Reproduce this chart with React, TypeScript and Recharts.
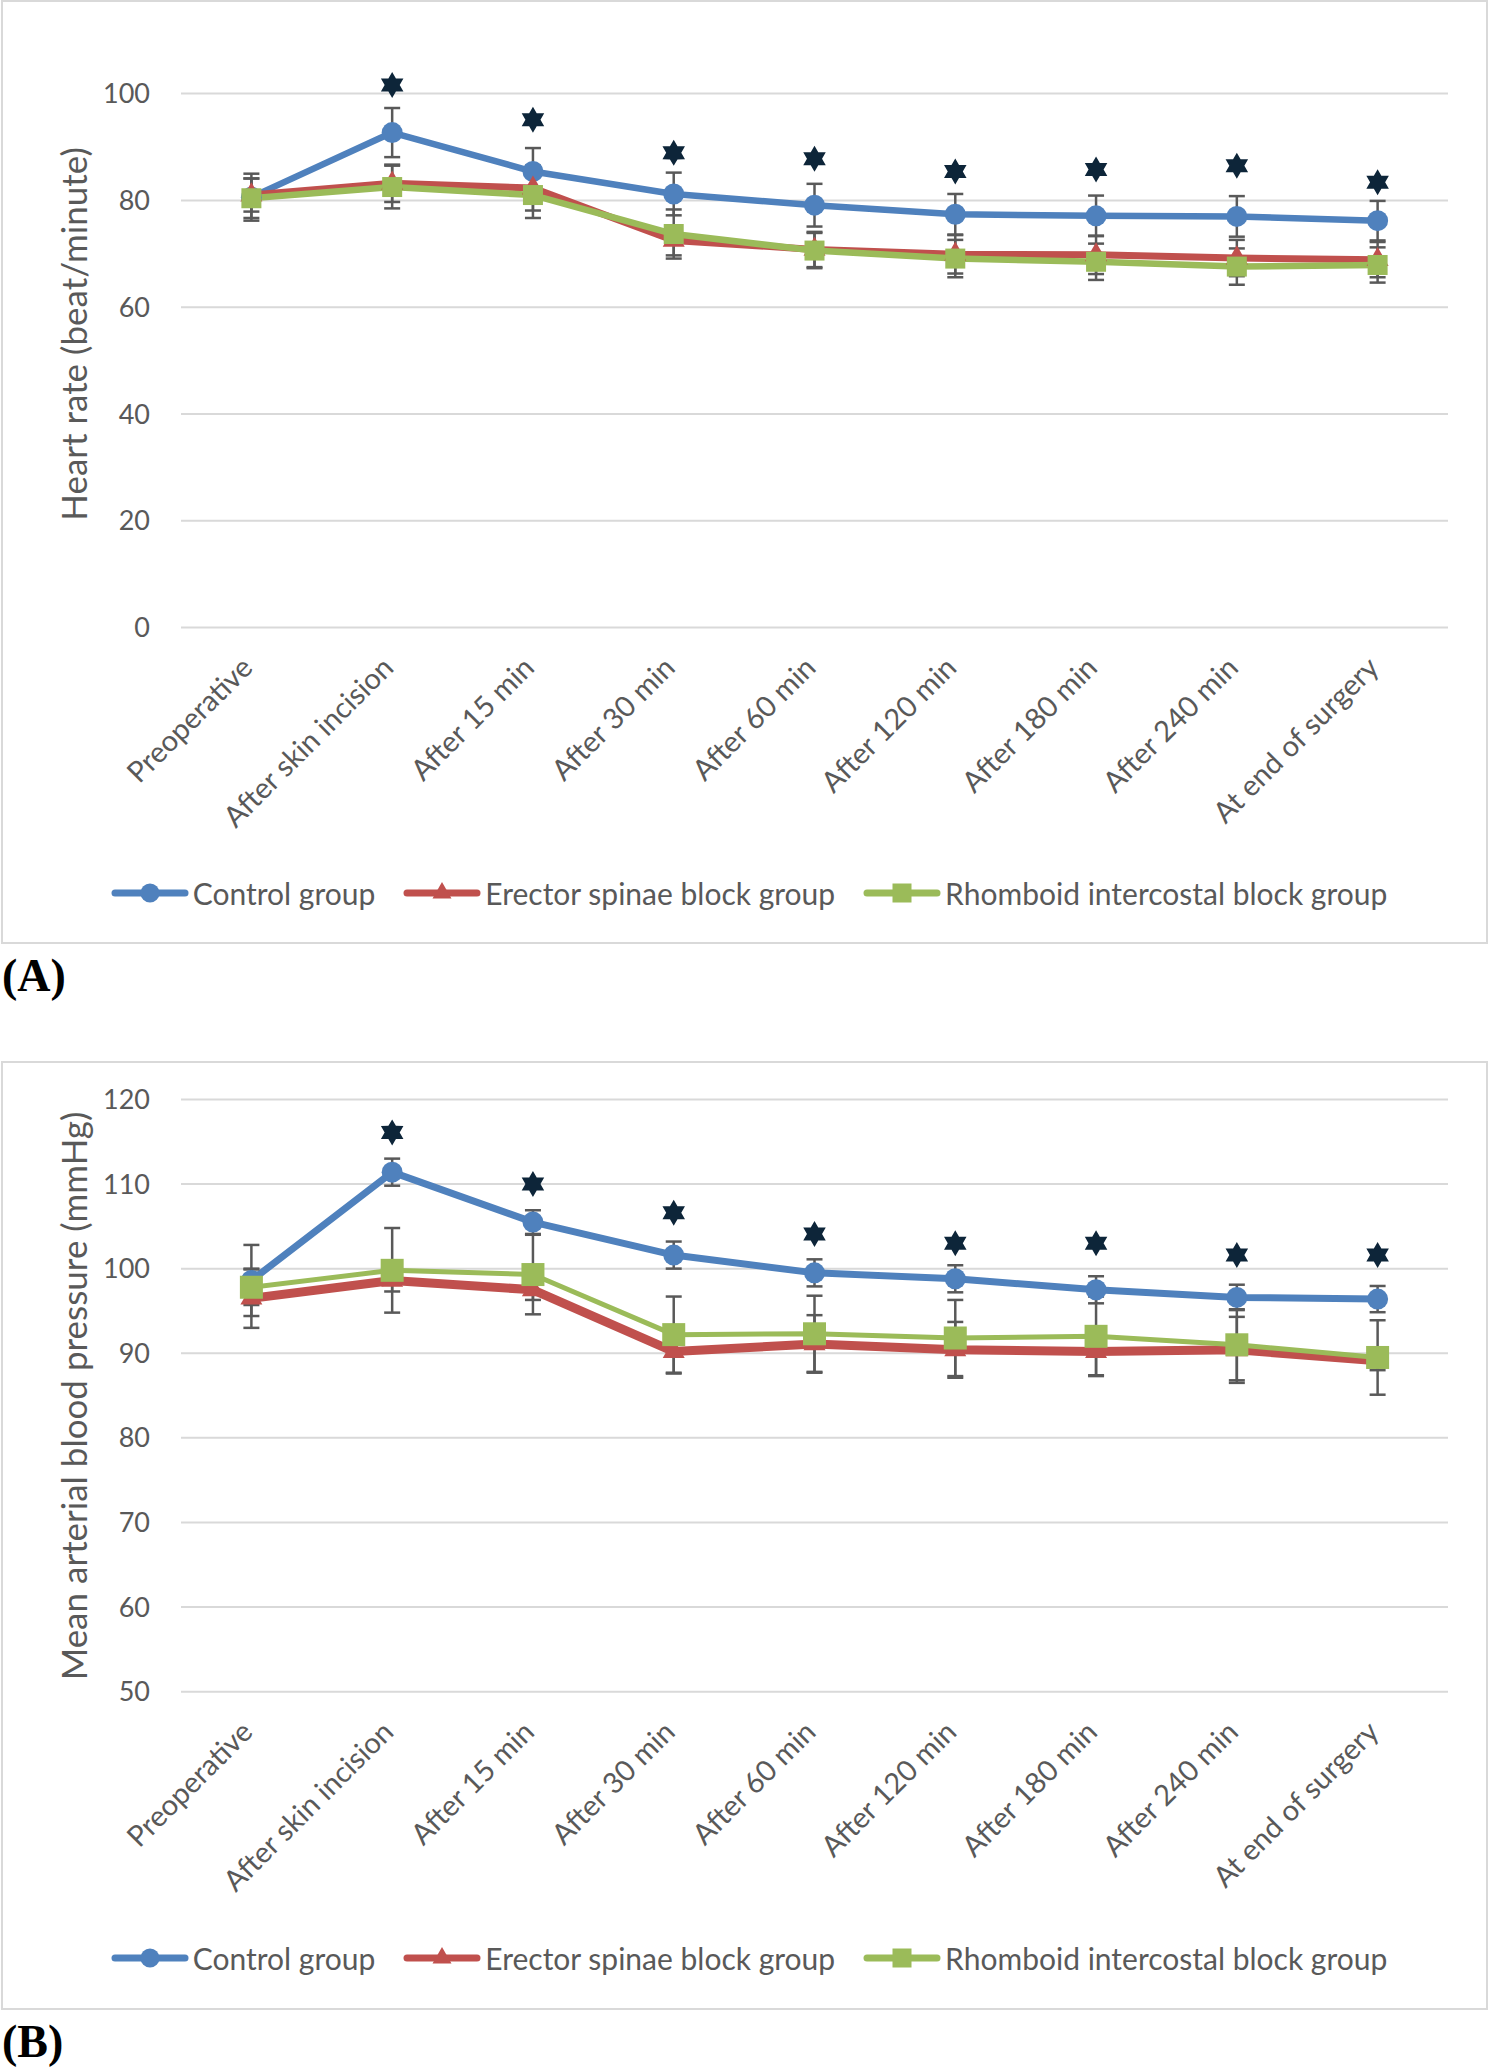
import { LineChart, Line, XAxis, YAxis, CartesianGrid, ErrorBar, Legend, ReferenceDot } from "recharts";

const FONT = "Lato, 'Noto Sans', sans-serif";
const TEXT = "#595959";
const GRID = "#d9d9d9";

const timePoints = [
  "Preoperative",
  "After skin incision",
  "After 15 min",
  "After 30 min",
  "After 60 min",
  "After 120 min",
  "After 180 min",
  "After 240 min",
  "At end of surgery",
];

// (A) heart rate, beat/minute (mean and SD)
const hrControl = [80.6, 92.7, 85.4, 81.2, 79.1, 77.4, 77.1, 77.0, 76.2];
const hrControlSd = [4.4, 4.6, 4.4, 4.0, 4.0, 3.8, 3.8, 3.8, 3.7];
const hrErector = [81.0, 83.2, 82.3, 72.5, 70.8, 69.9, 69.8, 69.2, 68.9];
const hrErectorSd = [3.1, 3.5, 4.2, 2.8, 3.3, 3.6, 3.6, 3.4, 3.3];
const hrRhomboid = [80.4, 82.5, 81.0, 73.7, 70.6, 69.1, 68.5, 67.6, 67.9];
const hrRhomboidSd = [3.7, 4.0, 4.3, 4.6, 3.3, 3.5, 3.4, 3.4, 3.3];
const hrStars = [null, 101.6, 95.1, 88.9, 87.8, 85.4, 85.8, 86.5, 83.4];
const hrTicks = [0, 20, 40, 60, 80, 100];

// (B) mean arterial blood pressure, mmHg (mean and SD)
const mapControl = [98.6, 111.4, 105.5, 101.6, 99.5, 98.8, 97.5, 96.6, 96.4];
const mapControlSd = [4.2, 1.6, 1.4, 1.6, 1.6, 1.6, 1.6, 1.5, 1.55];
const mapErector = [96.5, 98.6, 97.5, 90.2, 91.1, 90.4, 90.2, 90.4, 89.1];
const mapErectorSd = [3.5, 1.3, 1.2, 2.6, 3.4, 3.3, 2.8, 3.9, 1.1];
const mapRhomboid = [97.8, 99.8, 99.3, 92.2, 92.3, 91.8, 92.0, 91.0, 89.5];
const mapRhomboidSd = [2.1, 5.0, 4.7, 4.5, 4.5, 4.5, 4.7, 4.2, 4.4];
const mapStars = [null, 116.1, 110.0, 106.6, 104.1, 103.0, 103.0, 101.6, 101.6];
const mapTicks = [50, 60, 70, 80, 90, 100, 110, 120];

type Marker = "circle" | "triangle" | "square";

interface SeriesDef {
  key: string;
  name: string;
  color: string;
  marker: Marker;
  values: number[];
  sd: number[];
  strokeWidth: number;
  markerSize: number;
}

function markerShape(marker: Marker, cx: number, cy: number, size: number, color: string, key?: string) {
  if (marker === "circle") return <circle key={key} cx={cx} cy={cy} r={size / 2} fill={color} />;
  if (marker === "square")
    return <rect key={key} x={cx - size / 2} y={cy - size / 2} width={size} height={size} fill={color} />;
  const h = size * 0.866;
  const d = `M${cx},${cy - (2 * h) / 3} L${cx + size / 2},${cy + h / 3} L${cx - size / 2},${cy + h / 3} Z`;
  return <path key={key} d={d} fill={color} />;
}

function starPath(cx: number, cy: number, r: number) {
  const pts: string[] = [];
  for (let i = 0; i < 12; i++) {
    const a = -Math.PI / 2 + (i * Math.PI) / 6;
    const rr = i % 2 === 0 ? r : r * 0.58;
    pts.push(`${cx + rr * Math.cos(a)},${cy + rr * Math.sin(a)}`);
  }
  return `M${pts.join("L")}Z`;
}

const StarShape = (props: any) => <path d={starPath(props.cx, props.cy, 13)} fill="#0d2539" />;

function CategoryTick(props: any) {
  const { x, y, payload } = props;
  return (
    <g transform={`translate(${x + 3},${y + 34})`}>
      <text x={0} y={0} textAnchor="end" transform="rotate(-45)" fill={TEXT} fontSize={29} fontFamily={FONT}>
        {payload.value}
      </text>
    </g>
  );
}

function LegendRow({ series }: { series: SeriesDef[] }) {
  return (
    <div
      style={{
        height: 40,
        display: "flex",
        alignItems: "center",
        justifyContent: "center",
        gap: 28,
        paddingLeft: 9,
        fontFamily: FONT,
        fontSize: 30,
        color: TEXT,
      }}
    >
      {series.map((s) => (
        <div key={s.key} style={{ display: "flex", alignItems: "center" }}>
          <svg width={78} height={26}>
            <line x1={4} x2={74} y1={13} y2={13} stroke={s.color} strokeWidth={7} strokeLinecap="round" />
            {markerShape(s.marker, 39, 13, s.marker === "circle" ? 19 : 19, s.color)}
          </svg>
          <span style={{ marginLeft: 4, lineHeight: "40px" }}>{s.name}</span>
        </div>
      ))}
    </div>
  );
}

interface PanelProps {
  series: SeriesDef[];
  stars: (number | null)[];
  ticks: number[];
  title: string;
  height: number;
  marginTop: number;
  xAxisHeight: number;
}

function Panel({ series, stars, ticks, title, height, marginTop, xAxisHeight }: PanelProps) {
  const rows = timePoints.map((name, i) => {
    const row: Record<string, string | number> = { name };
    series.forEach((s) => {
      row[s.key] = s.values[i];
      row[`${s.key}Sd`] = s.sd[i];
    });
    return row;
  });
  const plotWidth = 1489 - 181 - 41;
  const pad = plotWidth / 18;

  return (
    <LineChart width={1489} height={height} data={rows} margin={{ top: marginTop, right: 41, bottom: 31, left: 0 }}>
      <CartesianGrid vertical={false} stroke={GRID} strokeWidth={2} />
      <XAxis
        dataKey="name"
        interval={0}
        axisLine={false}
        tickLine={false}
        height={xAxisHeight}
        padding={{ left: pad, right: pad }}
        tick={<CategoryTick />}
      />
      <YAxis
        type="number"
        domain={[ticks[0], ticks[ticks.length - 1]]}
        ticks={ticks}
        width={181}
        axisLine={false}
        tickLine={false}
        tickMargin={25}
        tick={{ fontSize: 27, fill: TEXT, fontFamily: FONT }}
        label={() => (
          <text
            x={73}
            y={334}
            transform="rotate(-90 73 334)"
            textAnchor="middle"
            dominantBaseline="central"
            fill={TEXT}
            fontSize={35}
            fontFamily={FONT}
          >
            {title}
          </text>
        )}
      />
      <Legend
        verticalAlign="bottom"
        align="center"
        wrapperStyle={{ left: 0, width: 1489 }}
        content={() => <LegendRow series={series} />}
      />
      {series.map((s) => (
        <Line
          key={s.key}
          dataKey={s.key}
          name={s.name}
          type="linear"
          stroke={s.color}
          strokeWidth={s.strokeWidth}
          strokeLinejoin="round"
          isAnimationActive={false}
          dot={(p: any) =>
            p.cx == null ? <g key={`${s.key}-${p.index}`} /> : markerShape(s.marker, p.cx, p.cy, s.markerSize, s.color, `${s.key}-${p.index}`)
          }
          activeDot={false}
        >
          <ErrorBar dataKey={`${s.key}Sd`} direction="y" width={8} stroke={TEXT} strokeWidth={2.5} isAnimationActive={false} />
        </Line>
      ))}
      {stars.map((v, i) =>
        v == null ? null : (
          <ReferenceDot key={`star-${i}`} x={timePoints[i]} y={v} r={13} ifOverflow="visible" shape={StarShape} />
        ),
      )}
    </LineChart>
  );
}

const BLUE = "#4f81bd";
const RED = "#c0504d";
const GREEN = "#9bbb59";

const heartRateSeries: SeriesDef[] = [
  { key: "control", name: "Control group", color: BLUE, marker: "circle", values: hrControl, sd: hrControlSd, strokeWidth: 6.5, markerSize: 21 },
  { key: "erector", name: "Erector spinae block group", color: RED, marker: "triangle", values: hrErector, sd: hrErectorSd, strokeWidth: 7, markerSize: 22 },
  { key: "rhomboid", name: "Rhomboid intercostal block group", color: GREEN, marker: "square", values: hrRhomboid, sd: hrRhomboidSd, strokeWidth: 6.5, markerSize: 20 },
];

const pressureSeries: SeriesDef[] = [
  { key: "control", name: "Control group", color: BLUE, marker: "circle", values: mapControl, sd: mapControlSd, strokeWidth: 7, markerSize: 21 },
  { key: "erector", name: "Erector spinae block group", color: RED, marker: "triangle", values: mapErector, sd: mapErectorSd, strokeWidth: 9, markerSize: 22 },
  { key: "rhomboid", name: "Rhomboid intercostal block group", color: GREEN, marker: "square", values: mapRhomboid, sd: mapRhomboidSd, strokeWidth: 5, markerSize: 23 },
];

const panelLabel: React.CSSProperties = {
  position: "absolute",
  left: 2,
  fontFamily: "'Liberation Serif', 'Times New Roman', serif",
  fontWeight: "bold",
  fontSize: 46,
  lineHeight: "46px",
  color: "#000",
};

const frame: React.CSSProperties = {
  position: "absolute",
  left: 1,
  width: 1487,
  border: `2px solid ${GRID}`,
  boxSizing: "border-box",
};

export default function App() {
  return (
    <div style={{ position: "relative", width: 1489, height: 2068, background: "#fff", overflow: "hidden" }}>
      <style>{"body { margin: 0; }"}</style>

      <div style={{ ...frame, top: 0, height: 944 }} />
      <div style={{ position: "absolute", left: 0, top: 0 }}>
        <Panel
          series={heartRateSeries}
          stars={hrStars}
          ticks={hrTicks}
          title="Heart rate (beat/minute)"
          height={944}
          marginTop={93.6}
          xAxisHeight={245.5}
        />
      </div>
      <div style={{ ...panelLabel, top: 953 }}>(A)</div>

      <div style={{ ...frame, top: 1061, height: 949 }} />
      <div style={{ position: "absolute", left: 0, top: 1062 }}>
        <Panel
          series={pressureSeries}
          stars={mapStars}
          ticks={mapTicks}
          title="Mean arterial blood pressure (mmHg)"
          height={947}
          marginTop={37.4}
          xAxisHeight={246.3}
        />
      </div>
      <div style={{ ...panelLabel, top: 2019 }}>(B)</div>
    </div>
  );
}
